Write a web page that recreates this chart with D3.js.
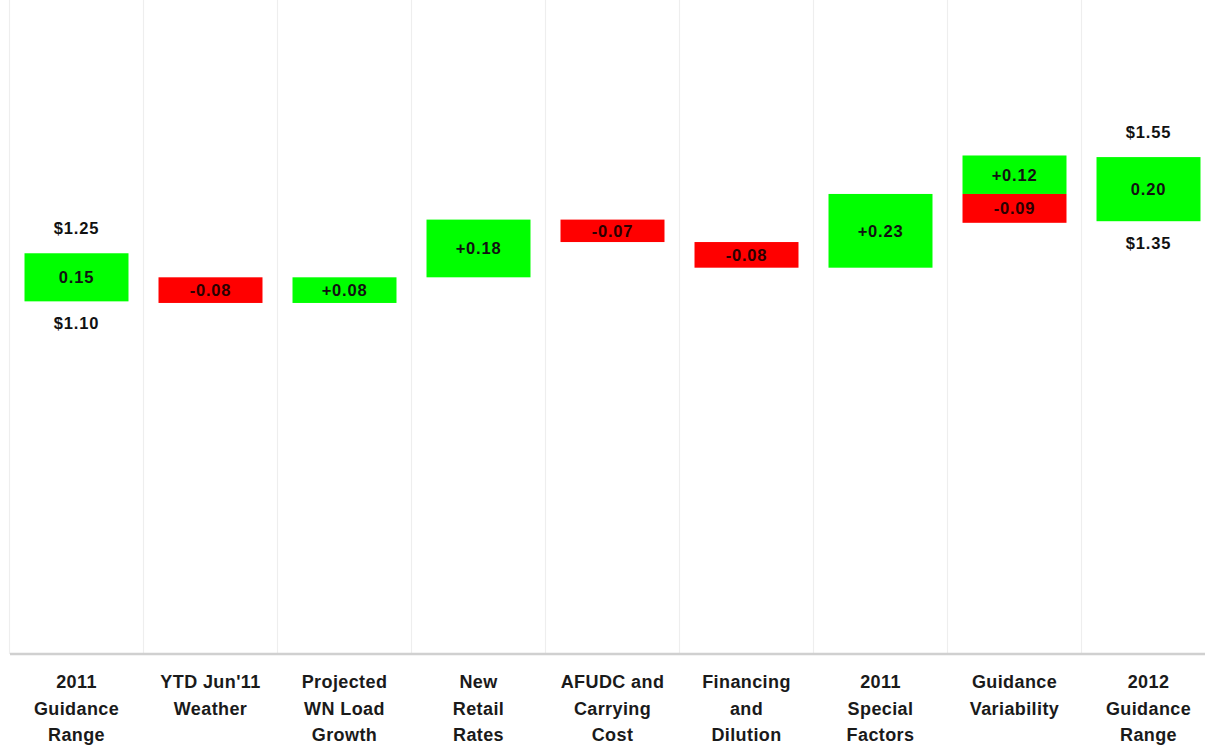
<!DOCTYPE html>
<html>
<head>
<meta charset="utf-8">
<script src="https://cdn.jsdelivr.net/npm/d3@7"></script>
<style>
  html, body { margin: 0; padding: 0; background: #fff; }
  svg { display: block; }
  text { font-family: "Liberation Sans", Arial, sans-serif; font-weight: bold; }
</style>
</head>
<body>
<svg id="chart" width="1205" height="746"></svg>
<script>
// Earnings-per-share walk from 2011 guidance to 2012 guidance
const categories = [
  ["2011", "Guidance", "Range"],
  ["YTD Jun'11", "Weather"],
  ["Projected", "WN Load", "Growth"],
  ["New", "Retail", "Rates"],
  ["AFUDC and", "Carrying", "Cost"],
  ["Financing", "and", "Dilution"],
  ["2011", "Special", "Factors"],
  ["Guidance", "Variability"],
  ["2012", "Guidance", "Range"]
];
const openingRange = [1.10, 1.25];          // 2011 guidance low / high
const closingRange = [1.35, 1.55];          // 2012 guidance low / high
const walkStart = 1.175;                    // midpoint the walk starts from
const walkDeltas = [-0.08, 0.08, 0.18, -0.07, -0.08, 0.23];
const variabilityDeltas = [0.12, -0.09];    // both measured from the walk end

const GREEN = "#00ff00", RED = "#ff0000";

const svg = d3.select("#chart");
const W = 1205, H = 746;
const axisY = 654;

const x = d3.scaleBand()
  .domain(d3.range(categories.length))
  .range([9.5, 1215.5])
  .paddingInner(0.224)
  .paddingOuter(0.112);

const y = d3.scaleLinear().domain([0, 2.04]).range([axisY, 0]);

// Build bar segments
const fmtDelta = d => (d > 0 ? "+" : "-") + Math.abs(d).toFixed(2);
const segs = [];
segs.push({ i: 0, from: openingRange[0], to: openingRange[1],
  label: (openingRange[1] - openingRange[0]).toFixed(2), color: GREEN });
let level = walkStart;
walkDeltas.forEach((d, k) => {
  segs.push({ i: k + 1, from: level, to: level + d, label: fmtDelta(d), color: d > 0 ? GREEN : RED });
  level += d;
});
variabilityDeltas.forEach(d => {
  segs.push({ i: 7, from: level, to: level + d, label: fmtDelta(d), color: d > 0 ? GREEN : RED });
});
segs.push({ i: 8, from: closingRange[0], to: closingRange[1],
  label: (closingRange[1] - closingRange[0]).toFixed(2), color: GREEN });

// Vertical separators at band boundaries
const step = x.step();
const sepX = d3.range(categories.length).map(i => x(i) - (step - x.bandwidth()) / 2);
svg.append("g").selectAll("line").data(sepX).join("line")
  .attr("x1", d => d).attr("x2", d => d)
  .attr("y1", 0).attr("y2", axisY)
  .attr("stroke", "#eeeeee").attr("stroke-width", 1.2);

// Baseline
svg.append("line")
  .attr("x1", 10).attr("x2", W).attr("y1", axisY).attr("y2", axisY)
  .attr("stroke", "#d0d0d0").attr("stroke-width", 2.5);

// Bars
svg.append("g").selectAll("rect").data(segs).join("rect")
  .attr("x", d => x(d.i))
  .attr("width", x.bandwidth())
  .attr("y", d => y(Math.max(d.from, d.to)))
  .attr("height", d => Math.abs(y(d.from) - y(d.to)))
  .attr("fill", d => d.color);

// Values inside bars
svg.append("g").selectAll("text").data(segs).join("text")
  .attr("x", d => x(d.i) + x.bandwidth() / 2)
  .attr("y", d => (y(d.from) + y(d.to)) / 2)
  .attr("dy", "0.36em")
  .attr("text-anchor", "middle")
  .attr("font-size", 16.5)
  .attr("letter-spacing", "0.8px")
  .attr("fill", d => d.color === RED ? "#2a0000" : "#111")
  .text(d => d.label);

// Range endpoints
const rangeLabels = [
  { i: 0, v: openingRange[1], pos: "above" },
  { i: 0, v: openingRange[0], pos: "below" },
  { i: 8, v: closingRange[1], pos: "above" },
  { i: 8, v: closingRange[0], pos: "below" }
];
svg.append("g").selectAll("text").data(rangeLabels).join("text")
  .attr("x", d => x(d.i) + x.bandwidth() / 2)
  .attr("y", d => d.pos === "above" ? y(d.v) - 25 : y(d.v) + 22)
  .attr("dy", "0.36em")
  .attr("text-anchor", "middle")
  .attr("font-size", 16.5)
  .attr("letter-spacing", "0.8px")
  .attr("fill", "#111")
  .text(d => "$" + d.v.toFixed(2));

// Category labels
const cat = svg.append("g").selectAll("text").data(categories).join("text")
  .attr("text-anchor", "middle")
  .attr("font-size", 18)
  .attr("letter-spacing", "0.4px")
  .attr("fill", "#1a1a1a");
cat.selectAll("tspan").data((d, i) => d.map(s => ({ s, i }))).join("tspan")
  .attr("x", d => x(d.i) + x.bandwidth() / 2)
  .attr("y", (d, k) => 688 + k * 26.5)
  .text(d => d.s);
</script>
</body>
</html>
